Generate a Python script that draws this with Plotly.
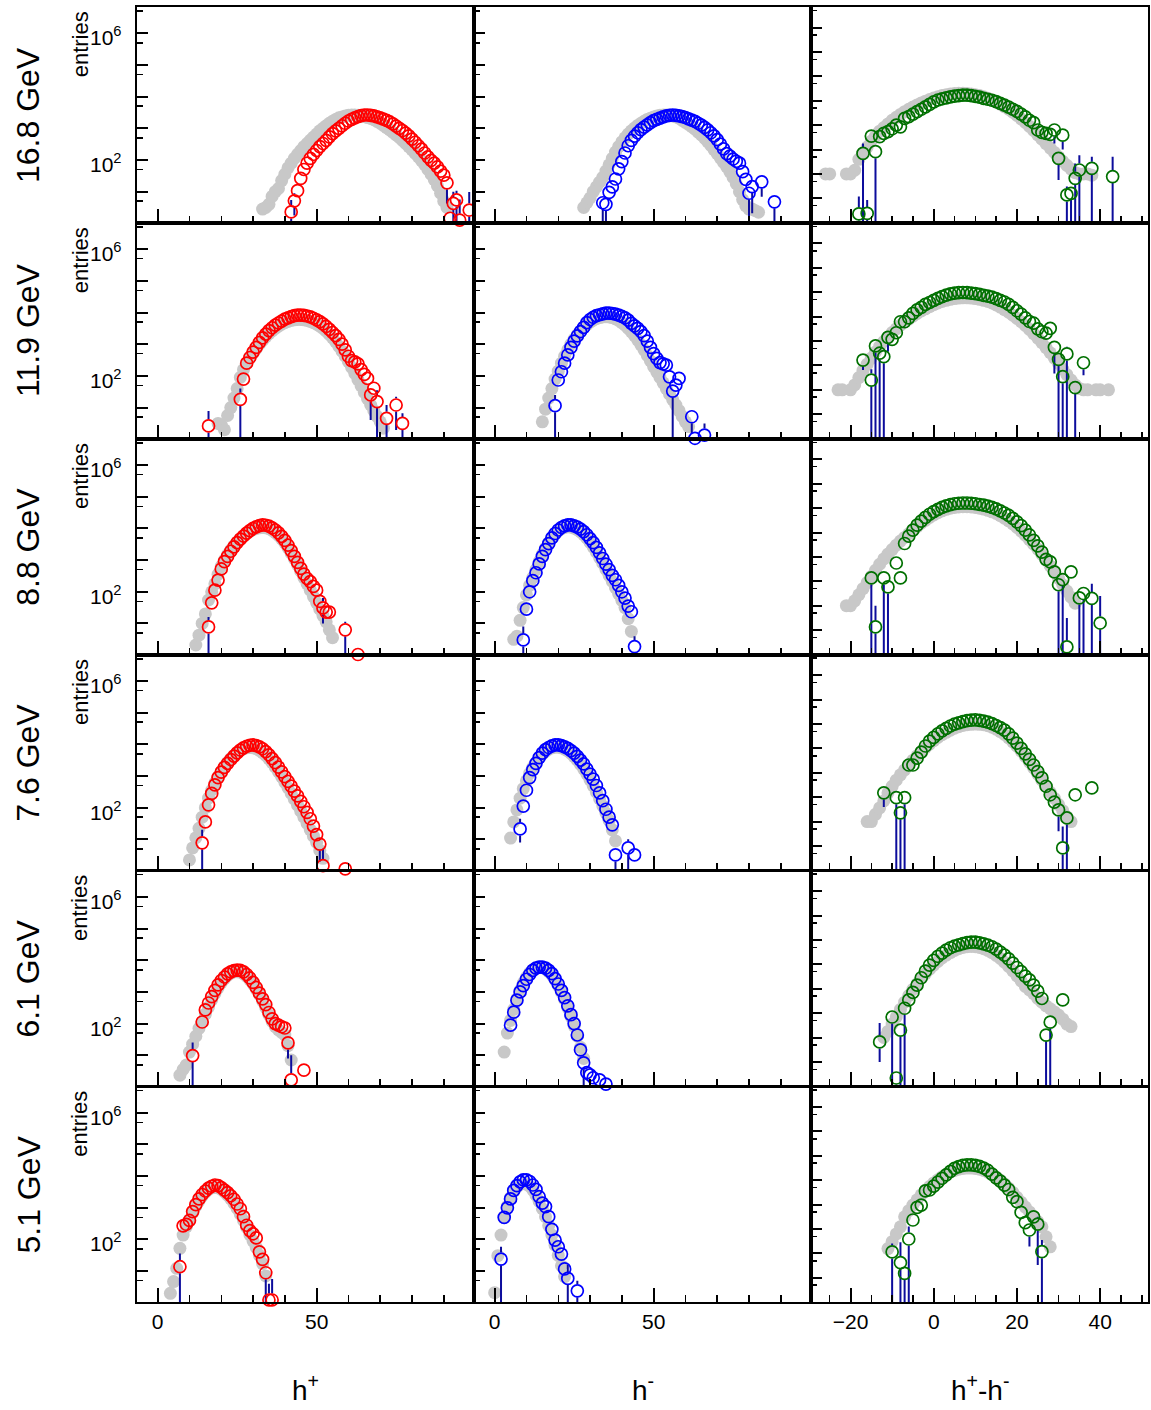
import plotly.graph_objects as go

# ---------------- data (log10 of entries, one value per integer bin; None = empty bin) -------------
ENERGIES = ["16.8 GeV", "11.9 GeV", "8.8 GeV", "7.6 GeV", "6.1 GeV", "5.1 GeV"]
X_TITLES = ["h<sup>+</sup>", "h<sup>-</sup>", "h<sup>+</sup>-h<sup>-</sup>"]
Y_LABEL_DECADES = [2, 6]

# ---- 16.8 GeV ----
HP_168_START = 42
HP_168 = [0.36, 0.71, 1.03, 1.42, 1.70, 1.90, 2.05, 2.18, 2.30, 2.42, 2.52, 2.62, 2.73, 2.83, 2.92, 3.00,
          3.08, 3.16, 3.23, 3.28, 3.33, 3.37, 3.40, 3.42, 3.42, 3.41, 3.39, 3.36, 3.33, 3.29, 3.25, 3.20,
          3.14, 3.07, 3.00, 2.93, 2.85, 2.76, 2.66, 2.56, 2.45, 2.34, 2.22, 2.10, 1.99, 1.90, 1.78, 1.65,
          1.52, 1.28, 0.16, 0.63, 0.74, 0.10, None, None, 0.42]
HP_168_REF_START = 33
HP_168_REF = [0.45, 0.50, 0.60, 0.85, 1.00, 1.10, 1.35, 1.55, 1.75, 1.90, 2.05, 2.18, 2.30, 2.42, 2.52, 2.62,
              2.72, 2.82, 2.92, 3.00, 3.08, 3.16, 3.22, 3.28, 3.33, 3.36, 3.39, 3.41, 3.42, 3.42, 3.41, 3.39,
              3.37, 3.34, 3.31, 3.27, 3.22, 3.16, 3.09, 3.02, 2.95, 2.87, 2.79, 2.71, 2.62, 2.52, 2.42, 2.32,
              2.21, 2.10, 1.98, 1.85, 1.70, 1.55, 1.38, 1.18, 0.95, 0.70, 0.50]
ERR_HP_168 = [(42, 0.02, 0.74), (43, 0.25, 0.95), (91, 0.63, None), (93, 0.02, 1.0), (94, 0.02, 1.03),
              (95, 0.02, 0.75), (98, 0.02, 0.99)]

HM_168_START = 34
HM_168 = [0.65, 0.60, 0.98, 1.15, 1.40, 1.72, 1.95, 2.22, 2.45, 2.62, 2.75, 2.86, 2.96, 3.04, 3.11, 3.18,
          3.24, 3.28, 3.32, 3.36, 3.39, 3.41, 3.42, 3.41, 3.39, 3.37, 3.34, 3.30, 3.26, 3.22, 3.16, 3.10,
          3.03, 2.95, 2.86, 2.76, 2.64, 2.50, 2.35, 2.20, 2.12, 2.03, 1.96, 1.90, 1.63, 1.39, 0.95, 1.16,
          None, None, 1.31, None, None, None, 0.68]
HM_168_REF_START = 28
HM_168_REF = [0.50, 0.65, 0.80, 1.00, 1.15, 1.30, 1.45, 1.65, 1.85, 2.05, 2.25, 2.42, 2.57, 2.70, 2.82, 2.92,
              3.01, 3.09, 3.16, 3.22, 3.28, 3.32, 3.36, 3.39, 3.41, 3.42, 3.42, 3.41, 3.39, 3.36, 3.32, 3.25,
              3.19, 3.12, 3.05, 2.97, 2.88, 2.79, 2.69, 2.58, 2.46, 2.33, 2.20, 2.06, 1.92, 1.78, 1.62, 1.45,
              1.25, 1.00, 0.75, 0.55, 0.45, 0.45, 0.40, 0.35]
ERR_HM_168 = [(34, 0.02, 0.84), (35, 0.02, None), (80, 0.02, None), (81, 0.32, None), (84, 0.84, None),
              (88, 0.02, 0.89)]

D_168_START = -18
D_168 = [0.36, 2.84, 0.38, 3.55, 2.91, 3.53, 3.66, 3.73, 3.85, 4.00, 3.93, 4.28, 4.35, 4.45, 4.55, 4.65,
         4.75, 4.85, 4.95, 5.03, 5.08, 5.12, 5.16, 5.19, 5.21, 5.23, 5.23, 5.21, 5.18, 5.15, 5.10, 5.06,
         5.02, 4.96, 4.89, 4.82, 4.74, 4.65, 4.56, 4.45, 4.34, 4.20, 4.10, 3.80, 3.70, 3.66, 3.62, 3.80,
         2.64, 3.59, 1.14, 1.20, 1.82, 2.16, None, None, 2.23, None, None, None, None, 1.89]
D_168_REF_START = -26
D_168_REF = [2.0, 2.0, None, None, None, 2.0, 2.0, 2.15, 2.6, 2.85, 3.1, 3.35, 3.55, 3.75, 3.9, 4.05,
             4.2, 4.32, 4.44, 4.55, 4.65, 4.74, 4.83, 4.91, 4.98, 5.05, 5.11, 5.16, 5.21, 5.25, 5.28, 5.30,
             5.31, 5.31, 5.30, 5.28, 5.25, 5.21, 5.16, 5.10, 5.03, 4.95, 4.86, 4.76, 4.65, 4.53, 4.40, 4.26,
             4.11, 3.95, 3.78, 3.60, 3.42, 3.24, 3.06, 2.88, 2.70, 2.52, 2.35, 2.20, 2.05, 2.0, 2.0, 2.0, 1.95]
ERR_D_168 = [(-18, 0, 1.07), (-17, 0, 3.25), (-16, 0, 0.93), (-14, 0, None), (-13, 3.32, None),
             (29, 3.25, None), (30, 1.75, None), (31, 3.0, None), (32, 0, 1.48), (33, 0, 1.3),
             (34, 0, 2.43), (35, 0, 2.77), (38, 0, 2.7), (43, 0, 2.7)]

# ---- 11.9 GeV ----
HP_119_START = 16
HP_119 = [0.42, None, None, None, None, None, None, None, None, None, 1.26, 1.9, 2.4, 2.58, 2.75, 2.9,
          3.06, 3.2, 3.32, 3.43, 3.52, 3.6, 3.67, 3.73, 3.79, 3.83, 3.87, 3.9, 3.92, 3.92, 3.91, 3.89,
          3.86, 3.82, 3.77, 3.71, 3.64, 3.56, 3.47, 3.37, 3.27, 3.15, 3.0, 2.82, 2.62, 2.48, 2.44, 2.38,
          2.2, 2.05, 1.92, 1.4, 1.61, 1.19, None, None, 0.66, None, None, 1.08, None, 0.5]
HP_119_REF_START = 19
HP_119_REF = [0.5, 0.45, 0.3, 0.75, 1.0, 1.3, 1.6, 1.95, 2.2, 2.4, 2.57, 2.72, 2.86, 3.0, 3.12, 3.23,
              3.33, 3.42, 3.5, 3.57, 3.63, 3.68, 3.72, 3.75, 3.77, 3.78, 3.78, 3.77, 3.75, 3.72, 3.68, 3.63,
              3.57, 3.5, 3.41, 3.31, 3.2, 3.07, 2.93, 2.78, 2.62, 2.45, 2.27, 2.08, 1.88, 1.68, 1.48, 1.28,
              1.08, 0.9, 0.72, 0.55, 0.35]
ERR_HP_119 = [(16, 0.02, 0.89), (26, 0.02, 1.6), (67, 0.61, None), (69, 0.02, 1.55), (72, 0.02, 1.08),
              (75, 0.29, 1.34), (77, 0.02, 0.82)]

HM_119_START = 19
HM_119 = [1.06, 1.87, 2.13, 2.4, 2.66, 2.9, 3.1, 3.26, 3.4, 3.53, 3.68, 3.78, 3.85, 3.9, 3.93, 3.96,
          3.98, 3.98, 3.97, 3.95, 3.92, 3.88, 3.83, 3.76, 3.66, 3.58, 3.5, 3.4, 3.27, 3.1, 2.9, 2.7,
          2.55, 2.42, 2.38, 2.34, 1.97, 1.52, 1.71, 1.92, None, None, None, 0.71, 0.03, None, None, 0.13]
HM_119_REF_START = 15
HM_119_REF = [0.55, 0.95, 1.3, 1.6, 1.9, 2.15, 2.4, 2.62, 2.82, 3.0, 3.16, 3.3, 3.42, 3.53, 3.62, 3.7,
              3.76, 3.81, 3.84, 3.86, 3.87, 3.86, 3.84, 3.8, 3.75, 3.68, 3.6, 3.5, 3.39, 3.27, 3.13, 2.98,
              2.82, 2.65, 2.47, 2.29, 2.12, 1.95, 1.78, 1.6, 1.42, 1.25, 1.08, 0.9, 0.72, 0.55, 0.4]
ERR_HM_119 = [(19, 0.02, 1.4), (56, 0.02, None), (62, 0.19, 0.92), (66, None, 0.5)]

D_119_START = -17
D_119 = [3.22, None, 2.4, 3.8, 3.5, 3.36, 4.15, 4.07, 4.34, 4.79, 4.79, 4.95, 5.13, 5.28, 5.38, 5.5,
         5.58, 5.67, 5.75, 5.82, 5.88, 5.93, 5.96, 5.98, 5.99, 5.98, 5.96, 5.94, 5.91, 5.87, 5.84, 5.8,
         5.74, 5.67, 5.6, 5.5, 5.38, 5.24, 5.1, 4.95, 4.8, 4.73, 4.5, 4.38, 4.32, 4.52, 3.74, 3.25,
         2.54, 3.47, None, 2.09, None, 3.11]
D_119_REF_START = -23
D_119_REF = [2.0, 2.0, None, 2.0, 2.2, 2.5, 2.8, 3.05, 3.3, 3.55, 3.78, 3.98, 4.17, 4.35, 4.5, 4.65,
             4.78, 4.9, 5.02, 5.13, 5.23, 5.32, 5.41, 5.49, 5.56, 5.62, 5.67, 5.71, 5.74, 5.76, 5.77, 5.77,
             5.76, 5.74, 5.71, 5.67, 5.62, 5.56, 5.48, 5.39, 5.29, 5.18, 5.06, 4.93, 4.79, 4.64, 4.48, 4.3,
             4.12, 3.93, 3.73, 3.52, 3.3, 3.08, 2.85, 2.62, 2.4, 2.2, 2.05, 2.0, 2.0, None, 2.0, 2.0,
             None, 2.0]
ERR_D_119 = [(-17, 2.81, None), (-15, 0, 2.84), (-14, 0, None), (-13, 0, None), (-12, 0, None),
             (-11, 3.56, None), (29, 2.67, None), (30, 0, None), (31, 0, None), (32, 0, 3.77),
             (34, 0, None), (36, 2.6, None)]

# ---- 8.8 GeV ----
HP_88_START = 16
HP_88 = [0.89, 1.65, 2.05, 2.37, 2.72, 2.95, 3.12, 3.28, 3.42, 3.55, 3.66, 3.76, 3.85, 3.93, 4.0, 4.05,
         4.09, 4.11, 4.1, 4.07, 4.02, 3.95, 3.86, 3.75, 3.62, 3.47, 3.3, 3.12, 2.93, 2.74, 2.56, 2.42,
         2.32, 2.17, 2.05, 1.7, 1.49, 1.36, 1.36, None, None, None, None, 0.8, None, None, None, 0.02]
HP_88_REF_START = 12
HP_88_REF = [0.32, 0.63, 1.0, 1.3, 1.74, 2.0, 2.25, 2.55, 2.8, 3.0, 3.17, 3.32, 3.45, 3.57, 3.67, 3.76,
             3.84, 3.91, 3.96, 4.0, 4.02, 4.03, 4.02, 3.99, 3.94, 3.87, 3.78, 3.67, 3.54, 3.39, 3.22, 3.04,
             2.85, 2.65, 2.45, 2.25, 2.05, 1.85, 1.65, 1.45, 1.25, 1.05, 0.8, 0.55]
ERR_HP_88 = [(16, 0.02, 1.2), (52, 1.0, 1.8), (59, 0.02, 1.05)]

HM_88_START = 9
HM_88 = [0.48, 1.45, 2.0, 2.35, 2.6, 2.88, 3.12, 3.33, 3.52, 3.7, 3.84, 3.95, 4.03, 4.08, 4.11, 4.11,
         4.08, 4.04, 3.98, 3.9, 3.8, 3.68, 3.55, 3.4, 3.23, 3.05, 2.87, 2.7, 2.52, 2.38, 2.2, 2.0,
         1.8, 1.55, 1.37, 0.27]
HM_88_REF_START = 6
HM_88_REF = [0.5, 0.6, 1.1, 1.5, 1.9, 2.2, 2.45, 2.7, 2.95, 3.18, 3.38, 3.55, 3.7, 3.82, 3.92, 3.99,
             4.03, 4.05, 4.04, 4.01, 3.96, 3.89, 3.8, 3.69, 3.56, 3.41, 3.25, 3.08, 2.9, 2.71, 2.52, 2.33,
             2.13, 1.93, 1.73, 1.5, 1.15, 0.75]
ERR_HM_88 = [(9, 0.02, 0.9), (44, 0.02, 0.6)]

D_88_START = -15
D_88 = [3.14, 1.13, None, 3.14, 2.77, None, 3.75, 3.14, 4.55, 4.85, 5.1, 5.3, 5.47, 5.62, 5.75, 5.86,
        5.95, 6.03, 6.09, 6.14, 6.18, 6.2, 6.21, 6.21, 6.2, 6.18, 6.15, 6.12, 6.08, 6.03, 5.97, 5.89,
        5.8, 5.7, 5.58, 5.44, 5.28, 5.1, 4.9, 4.68, 4.45, 4.2, 3.9, 3.8, 3.39, 2.86, 3.07, 0.31,
        3.39, None, 2.32, 2.5, None, 2.3, None, 1.29]
D_88_REF_START = -21
D_88_REF = [2.0, 2.0, 2.2, 2.45, 2.7, 2.95, 3.2, 3.45, 3.7, 3.92, 4.12, 4.3, 4.48, 4.65, 4.8, 4.95,
            5.1, 5.24, 5.38, 5.5, 5.62, 5.72, 5.81, 5.89, 5.95, 6.0, 6.03, 6.05, 6.06, 6.06, 6.05, 6.03,
            6.0, 5.96, 5.91, 5.85, 5.78, 5.69, 5.59, 5.48, 5.35, 5.21, 5.06, 4.89, 4.71, 4.52, 4.32, 4.1,
            3.87, 3.63, 3.38, 3.12, 2.86, 2.6, 2.35, 2.1]
ERR_D_88 = [(-15, 0, None), (-14, 0, 2.0), (-12, 0, None), (-11, 0, None), (30, 0, None), (31, 0, None),
            (32, 0, 1.5), (35, 0, None), (36, 0, None), (38, 0, 2.9), (40, 0, 2.4)]

# ---- 7.6 GeV ----
HP_76_START = 14
HP_76 = [0.89, 1.55, 2.09, 2.45, 2.72, 2.95, 3.12, 3.27, 3.4, 3.52, 3.63, 3.73, 3.82, 3.89, 3.94, 3.97,
         3.98, 3.96, 3.92, 3.86, 3.77, 3.67, 3.55, 3.42, 3.28, 3.13, 2.98, 2.83, 2.68, 2.52, 2.37, 2.2,
         2.03, 1.85, 1.65, 1.42, 1.15, 0.85, 0.17, None, None, None, None, None, None, 0.07]
HP_76_REF_START = 10
HP_76_REF = [0.35, 0.73, 1.05, 1.35, 1.7, 2.0, 2.3, 2.55, 2.78, 2.98, 3.15, 3.3, 3.43, 3.55, 3.65, 3.74,
             3.81, 3.86, 3.89, 3.9, 3.89, 3.86, 3.81, 3.74, 3.65, 3.54, 3.42, 3.28, 3.13, 2.97, 2.8, 2.63,
             2.45, 2.27, 2.08, 1.89, 1.7, 1.5, 1.3, 1.1, 0.9, 0.65, 0.4]
ERR_HP_76 = [(14, 0.02, 1.3), (51, 0.3, None), (52, 0.02, 0.7)]

HM_76_START = 8
HM_76 = [1.33, 2.05, 2.55, 2.95, 3.2, 3.4, 3.58, 3.72, 3.83, 3.9, 3.95, 3.98, 3.98, 3.96, 3.92, 3.87,
         3.8, 3.72, 3.62, 3.5, 3.38, 3.22, 3.06, 2.9, 2.7, 2.47, 2.22, 1.95, 1.7, 1.46, 0.51, None,
         None, None, 0.73, None, 0.51]
HM_76_REF_START = 5
HM_76_REF = [1.04, 1.55, 1.93, 2.3, 2.6, 2.85, 3.08, 3.27, 3.43, 3.57, 3.69, 3.78, 3.85, 3.89, 3.91, 3.91,
             3.89, 3.85, 3.79, 3.71, 3.61, 3.5, 3.37, 3.22, 3.06, 2.88, 2.69, 2.49, 2.28, 2.06, 1.83, 1.6,
             1.3, 0.95]
ERR_HM_76 = [(8, 0.9, 1.65), (38, 0.02, None), (42, 0.02, 1.0)]

D_76_START = -12
D_76 = [3.18, None, None, 2.98, 2.36, 2.98, 4.32, 4.32, 4.6, 4.85, 5.1, 5.3, 5.45, 5.6, 5.72, 5.82,
        5.92, 6.0, 6.05, 6.1, 6.14, 6.16, 6.17, 6.15, 6.12, 6.08, 6.02, 5.94, 5.85, 5.75, 5.6, 5.42,
        5.22, 5.0, 4.78, 4.55, 4.32, 4.05, 3.79, 3.45, 3.1, 2.8, 2.48, 0.92, 2.15, None, 3.1, None,
        None, None, 3.38]
D_76_REF_START = -16
D_76_REF = [2.0, 2.0, 2.3, 2.56, 2.85, 3.18, 3.45, 3.7, 3.92, 4.12, 4.32, 4.52, 4.7, 4.87, 5.03, 5.18,
            5.32, 5.45, 5.56, 5.66, 5.75, 5.83, 5.89, 5.94, 5.97, 5.99, 6.0, 5.99, 5.97, 5.93, 5.87, 5.79,
            5.69, 5.57, 5.43, 5.27, 5.09, 4.89, 4.67, 4.44, 4.2, 3.95, 3.7, 3.45, 3.2, 2.95, 2.7, 2.45,
            2.2, 2.0]
ERR_D_76 = [(-12, 2.6, None), (-9, 0, None), (-8, 0, None), (-7, 0, None), (30, 1.6, None),
            (31, 0, 1.8), (32, 0, None)]

# ---- 6.1 GeV ----
HP_61_START = 11
HP_61 = [0.99, None, None, 2.05, 2.43, 2.65, 2.85, 3.05, 3.22, 3.36, 3.47, 3.57, 3.63, 3.67, 3.69, 3.68,
         3.63, 3.55, 3.44, 3.3, 3.14, 2.96, 2.78, 2.6, 2.35, 2.15, 2.0, 1.95, 1.9, 1.86, 1.39, 0.22,
         None, None, None, 0.53]
HP_61_REF_START = 7
HP_61_REF = [0.37, 0.55, 0.69, 1.1, 1.35, 1.6, 1.85, 2.05, 2.3, 2.52, 2.75, 2.95, 3.13, 3.29, 3.42, 3.52,
             3.59, 3.63, 3.64, 3.62, 3.57, 3.49, 3.38, 3.25, 3.09, 2.91, 2.71, 2.5, 2.28, 2.07, 1.9, 1.8,
             1.72, 1.64, 1.3, 0.85]
ERR_HP_61 = [(11, 0.02, 1.4), (41, 0.9, None), (42, 0.02, 1.0)]

HM_61_START = 5
HM_61 = [1.95, 2.36, 2.74, 3.0, 3.2, 3.4, 3.55, 3.68, 3.75, 3.78, 3.78, 3.75, 3.68, 3.58, 3.42, 3.25,
         3.05, 2.82, 2.56, 2.28, 2.0, 1.64, 1.17, 0.76, 0.45, 0.38, 0.29, None, 0.22, None, 0.09]
HM_61_REF_START = 3
HM_61_REF = [1.1, 1.7, 2.1, 2.45, 2.78, 3.05, 3.28, 3.46, 3.6, 3.7, 3.76, 3.78, 3.77, 3.72, 3.64, 3.53,
             3.38, 3.2, 2.99, 2.76, 2.5, 2.22, 1.92, 1.6, 1.25, 0.9]
ERR_HM_61 = [(28, 0.02, None)]

D_61_START = -13
D_61 = [1.82, None, None, 2.84, 0.34, 2.3, 3.2, 3.54, 3.85, 4.15, 4.45, 4.72, 4.97, 5.16, 5.33, 5.46,
        5.58, 5.68, 5.75, 5.8, 5.85, 5.89, 5.91, 5.91, 5.88, 5.84, 5.79, 5.72, 5.62, 5.5, 5.38, 5.22,
        5.05, 4.87, 4.7, 4.52, 4.36, 4.15, 3.9, 3.6, 2.1, 2.63, None, None, 3.54]
D_61_REF_START = -12
D_61_REF = [2.0, 2.25, 2.55, 2.85, 3.15, 3.45, 3.72, 3.97, 4.2, 4.42, 4.62, 4.8, 4.97, 5.12, 5.26, 5.38,
            5.48, 5.57, 5.64, 5.69, 5.72, 5.73, 5.72, 5.69, 5.64, 5.57, 5.48, 5.37, 5.24, 5.09, 4.92, 4.73,
            4.53, 4.32, 4.1, 3.95, 3.8, 3.6, 3.45, 3.3, 3.18, 3.05, 2.92, 2.75, 2.55, 2.45]
ERR_D_61 = [(-13, 1.0, 2.6), (-10, 0, None), (-9, 0, None), (-8, 0, None), (-7, 0, None),
            (27, 0, None), (28, 0, None)]

# ---- 5.1 GeV ----
HP_51_START = 7
HP_51 = [1.14, 2.43, 2.48, 2.6, 2.88, 3.1, 3.28, 3.42, 3.53, 3.62, 3.68, 3.72, 3.7, 3.64, 3.56, 3.48,
         3.38, 3.27, 3.12, 2.97, 2.72, 2.45, 2.28, 2.18, 2.05, 1.61, 1.37, 0.95, 0.09, 0.09]
HP_51_REF_START = 4
HP_51_REF = [0.3, 0.67, 1.09, 1.72, 2.14, 2.4, 2.62, 2.85, 3.05, 3.22, 3.37, 3.49, 3.58, 3.63, 3.65, 3.63,
             3.58, 3.5, 3.4, 3.28, 3.14, 2.98, 2.8, 2.6, 2.38, 2.15, 1.95, 1.75, 1.5, 1.24, 0.85]
ERR_HP_51 = [(7, 0.02, 1.56), (34, 0.02, None), (35, None, 0.6), (36, None, 0.75)]

HM_51_START = 2
HM_51 = [1.38, 2.7, 3.0, 3.28, 3.55, 3.7, 3.82, 3.88, 3.88, 3.83, 3.72, 3.58, 3.35, 3.15, 3.04, 2.72,
         2.32, 1.98, 1.77, 1.54, 1.07, 0.77, None, None, 0.38]
HM_51_REF_START = 0
HM_51_REF = [0.32, 1.49, 2.14, 2.7, 3.05, 3.32, 3.52, 3.66, 3.74, 3.77, 3.75, 3.68, 3.56, 3.4, 3.2, 2.97,
             2.72, 2.44, 2.14, 1.82, 1.5, 1.17, 0.83]
ERR_HM_51 = [(2, 0.02, 1.77), (23, 0.02, 1.2), (26, 0.02, 0.7)]

D_51_START = -10
D_51 = [2.06, None, 1.62, 1.18, 2.59, 3.37, 3.89, 3.98, 4.56, 4.6, 4.76, 4.92, 5.08, 5.22, 5.36, 5.49,
        5.56, 5.61, 5.63, 5.63, 5.61, 5.57, 5.5, 5.4, 5.25, 5.1, 4.96, 4.8, 4.62, 4.3, 4.12, 3.68,
        3.26, 2.96, 3.5, 3.2, 2.07]
D_51_REF_START = -11
D_51_REF = [2.2, 2.48, 2.8, 3.09, 3.5, 3.75, 3.98, 4.2, 4.4, 4.58, 4.74, 4.89, 5.02, 5.14, 5.24, 5.33,
            5.4, 5.45, 5.48, 5.5, 5.5, 5.48, 5.45, 5.4, 5.33, 5.24, 5.13, 5.0, 4.85, 4.68, 4.5, 4.3,
            4.1, 3.9, 3.7, 3.5, 3.3, 3.09, 2.68, 2.27]
ERR_D_51 = [(-10, 0, 2.41), (-8, 0, 2.46), (-7, 0, None), (-6, 0, 3.1), (23, 2.28, None),
            (25, 1.52, 3.5), (26, 0, 2.55)]

# ---------------- style ----------------
FONT = "Liberation Sans, Arial, Helvetica, sans-serif"
COLORS = ["#ff0000", "#0000ff", "#007000"]
GRAY = "#c8c8c8"
ERRC = "#0c0c9c"
W, H = 1151, 1410
COL_PX = [137, 474, 811, 1148]
ROW_TOP0, ROW_STEP, ROW_H = 7.3, 215.9, 215.4
YR = [[0.02, 6.82], [0.02, 6.82], [0.0, 8.83]]          # log10 ranges
XR = [[-6.5, 99.5], [-6.5, 99.5], [-29.5, 51.5]]
PX_PER_DEC = [ROW_H / (YR[c][1] - YR[c][0]) for c in range(3)]
MARKER_R = 6.5  # px, radius of open circle for error-bar gap

PANELS = [
    [(HP_168_START, HP_168, HP_168_REF_START, HP_168_REF, ERR_HP_168),
     (HM_168_START, HM_168, HM_168_REF_START, HM_168_REF, ERR_HM_168),
     (D_168_START, D_168, D_168_REF_START, D_168_REF, ERR_D_168)],
    [(HP_119_START, HP_119, HP_119_REF_START, HP_119_REF, ERR_HP_119),
     (HM_119_START, HM_119, HM_119_REF_START, HM_119_REF, ERR_HM_119),
     (D_119_START, D_119, D_119_REF_START, D_119_REF, ERR_D_119)],
    [(HP_88_START, HP_88, HP_88_REF_START, HP_88_REF, ERR_HP_88),
     (HM_88_START, HM_88, HM_88_REF_START, HM_88_REF, ERR_HM_88),
     (D_88_START, D_88, D_88_REF_START, D_88_REF, ERR_D_88)],
    [(HP_76_START, HP_76, HP_76_REF_START, HP_76_REF, ERR_HP_76),
     (HM_76_START, HM_76, HM_76_REF_START, HM_76_REF, ERR_HM_76),
     (D_76_START, D_76, D_76_REF_START, D_76_REF, ERR_D_76)],
    [(HP_61_START, HP_61, HP_61_REF_START, HP_61_REF, ERR_HP_61),
     (HM_61_START, HM_61, HM_61_REF_START, HM_61_REF, ERR_HM_61),
     (D_61_START, D_61, D_61_REF_START, D_61_REF, ERR_D_61)],
    [(HP_51_START, HP_51, HP_51_REF_START, HP_51_REF, ERR_HP_51),
     (HM_51_START, HM_51, HM_51_REF_START, HM_51_REF, ERR_HM_51),
     (D_51_START, D_51, D_51_REF_START, D_51_REF, ERR_D_51)],
]


def xy(start, vals):
    xs, ys = [], []
    for i, v in enumerate(vals):
        if v is not None:
            xs.append(start + i)
            ys.append(10 ** v)
    return xs, ys


fig = go.Figure()
layout = dict(width=W, height=H, margin=dict(l=0, r=0, t=0, b=0), showlegend=False,
              paper_bgcolor="white", plot_bgcolor="white", font=dict(family=FONT, color="black"))
annotations = []

for r in range(6):
    top = ROW_TOP0 + ROW_STEP * r
    bot = top + ROW_H
    for c in range(3):
        k = r * 3 + c + 1
        xa, ya = f"x{k}", f"y{k}"
        start, vals, rstart, rvals, errs = PANELS[r][c]
        lookup = {start + i: v for i, v in enumerate(vals)}
        gap = MARKER_R / PX_PER_DEC[c]
        floor = YR[c][0]

        gx, gy = xy(rstart, rvals)
        fig.add_trace(go.Scatter(x=gx, y=gy, mode="markers", xaxis=xa, yaxis=ya,
                                 marker=dict(color=GRAY, size=13, line=dict(width=0)),
                                 hoverinfo="skip", cliponaxis=False))
        ex, ey = [], []
        for (bx, lo, hi) in errs:
            v = lookup[bx]
            if hi is not None and hi > v + gap:
                ex += [bx, bx, None]
                ey += [10 ** (v + gap), 10 ** hi, None]
            if lo is not None and lo < v - gap:
                ex += [bx, bx, None]
                ey += [10 ** max(lo, floor), 10 ** (v - gap), None]
        if ex:
            fig.add_trace(go.Scatter(x=ex, y=ey, mode="lines", xaxis=xa, yaxis=ya,
                                     line=dict(color=ERRC, width=2), hoverinfo="skip",
                                     connectgaps=False, cliponaxis=False))
        cx, cy = xy(start, vals)
        fig.add_trace(go.Scatter(x=cx, y=cy, mode="markers", xaxis=xa, yaxis=ya,
                                 marker=dict(symbol="circle-open", size=12, color=COLORS[c],
                                             line=dict(width=1.7, color=COLORS[c])),
                                 hoverinfo="skip", cliponaxis=False))

        if c < 2:
            xmaj, xmin = [0, 50], [10, 20, 30, 40, 60, 70, 80, 90]
        else:
            xmaj, xmin = [-20, 0, 20, 40], [-25, -15, -10, -5, 5, 10, 15, 25, 30, 35, 45, 50]
        ndec = 6 if c < 2 else 8
        yvals = [10 ** d for d in range(1, ndec + 1)]
        yminor = [5 * 10 ** d for d in range(0, ndec + 1)]

        axis_common = dict(showline=True, mirror=True, linecolor="black", linewidth=2,
                           ticks="inside", tickcolor="black", tickwidth=2, showgrid=False,
                           zeroline=False, fixedrange=True)
        layout["xaxis" if k == 1 else f"xaxis{k}"] = dict(
            domain=[COL_PX[c] / W, COL_PX[c + 1] / W], anchor=ya, range=XR[c],
            tickmode="array", tickvals=xmaj, ticklen=14, showticklabels=(r == 5),
            tickfont=dict(size=21, family=FONT, color="black"),
            minor=dict(ticks="inside", tickmode="array", tickvals=xmin, ticklen=7,
                       tickwidth=1.5, tickcolor="black", showgrid=False),
            **axis_common)
        layout["yaxis" if k == 1 else f"yaxis{k}"] = dict(
            domain=[1 - bot / H, 1 - top / H], anchor=xa, type="log", range=YR[c],
            tickmode="array", tickvals=yvals, ticklen=11, showticklabels=False,
            minor=dict(ticks="inside", tickmode="array", tickvals=yminor, ticklen=6,
                       tickwidth=1.5, tickcolor="black", showgrid=False),
            **axis_common)

        if c == 0:
            for d in Y_LABEL_DECADES:
                annotations.append(dict(text="10<sup>%d</sup>" % d, x=(COL_PX[0] - 13) / W, y=d,
                                        xref="paper", yref=ya, showarrow=False, yshift=-3,
                                        xanchor="right", yanchor="middle",
                                        font=dict(size=21, family=FONT, color="black")))

    annotations.append(dict(text=ENERGIES[r], x=28 / W, y=1 - (top + ROW_H / 2) / H,
                            xref="paper", yref="paper", showarrow=False, textangle=-90,
                            xanchor="center", yanchor="middle",
                            font=dict(size=32, family=FONT, color="black")))
    annotations.append(dict(text="entries", x=80 / W, y=1 - (top + 37) / H,
                            xref="paper", yref="paper", showarrow=False, textangle=-90,
                            xanchor="center", yanchor="middle",
                            font=dict(size=22, family=FONT, color="black")))

for c in range(3):
    annotations.append(dict(text=X_TITLES[c], x=(COL_PX[c] + COL_PX[c + 1]) / 2 / W, y=1 - 1388 / H,
                            xref="paper", yref="paper", showarrow=False,
                            xanchor="center", yanchor="middle",
                            font=dict(size=28, family=FONT, color="black")))

layout["annotations"] = annotations
fig.update_layout(**layout)
fig.write_html("out.html", config={"displayModeBar": False, "staticPlot": True},
               post_script="document.body.style.margin='0px';document.body.style.overflow='hidden';")
